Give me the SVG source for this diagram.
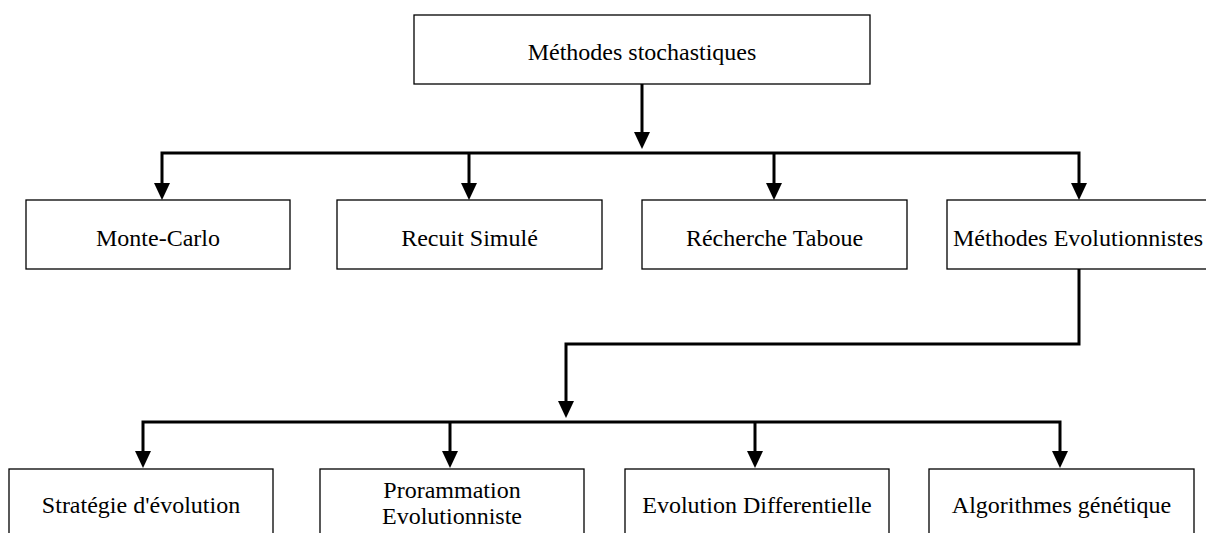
<svg xmlns="http://www.w3.org/2000/svg" width="1206" height="533" viewBox="0 0 1206 533">
<style>
.box{fill:#fff;stroke:#000;stroke-width:1.3}
.lbl{font-family:"Liberation Serif","Times New Roman",serif;font-size:24px;fill:#000;text-anchor:middle}
.conn{fill:none;stroke:#000;stroke-width:3;stroke-linejoin:miter}
.arr{marker-end:url(#ah)}
</style>
<defs>
<marker id="ah" markerUnits="userSpaceOnUse" viewBox="-2 -8 17 16" refX="0" refY="0" markerWidth="17" markerHeight="16" orient="auto-start-reverse">
<path d="M-2,-8 L15,0 L-2,8 z" fill="#000"/>
</marker>
</defs>
<rect width="1206" height="533" fill="#fff"/>
<g id="connectors">
<path class="conn arr" d="M642,84 V134"/>
<path class="conn" d="M162,185 V153 H1079 V185" marker-start="url(#ah)" marker-end="url(#ah)"/>
<path class="conn arr" d="M469,153 V185"/>
<path class="conn arr" d="M774,153 V185"/>
<path class="conn arr" d="M1079,269 V344 H566 V403"/>
<path class="conn" d="M143,453 V422 H1060 V453" marker-start="url(#ah)" marker-end="url(#ah)"/>
<path class="conn arr" d="M450,422 V453"/>
<path class="conn arr" d="M755,422 V453"/>
</g>
<g id="n-stochastiques"><rect class="box" x="414" y="15" width="456" height="69"/><text class="lbl" x="642" y="60">Méthodes stochastiques</text></g>
<g id="n-montecarlo"><rect class="box" x="26" y="200" width="264" height="69"/><text class="lbl" x="158" y="246">Monte-Carlo</text></g>
<g id="n-recuit"><rect class="box" x="337" y="200" width="265" height="69"/><text class="lbl" x="469.5" y="246">Recuit Simulé</text></g>
<g id="n-tabou"><rect class="box" x="642" y="200" width="265" height="69"/><text class="lbl" x="774.5" y="246">Récherche Taboue</text></g>
<g id="n-evol"><rect class="box" x="947" y="200" width="265" height="69"/><text class="lbl" x="1078" y="246">Méthodes Evolutionnistes</text></g>
<g id="n-strategie"><rect class="box" x="9" y="469" width="264" height="75"/><text class="lbl" x="141" y="513">Stratégie d'évolution</text></g>
<g id="n-prog"><rect class="box" x="320" y="469" width="264" height="75"/><text class="lbl" x="452" y="498">Prorammation</text><text class="lbl" x="452" y="524">Evolutionniste</text></g>
<g id="n-diff"><rect class="box" x="625" y="469" width="264" height="75"/><text class="lbl" x="757" y="513">Evolution Differentielle</text></g>
<g id="n-genetique"><rect class="box" x="929" y="469" width="265" height="75"/><text class="lbl" x="1061.5" y="513">Algorithmes génétique</text></g>
</svg>
